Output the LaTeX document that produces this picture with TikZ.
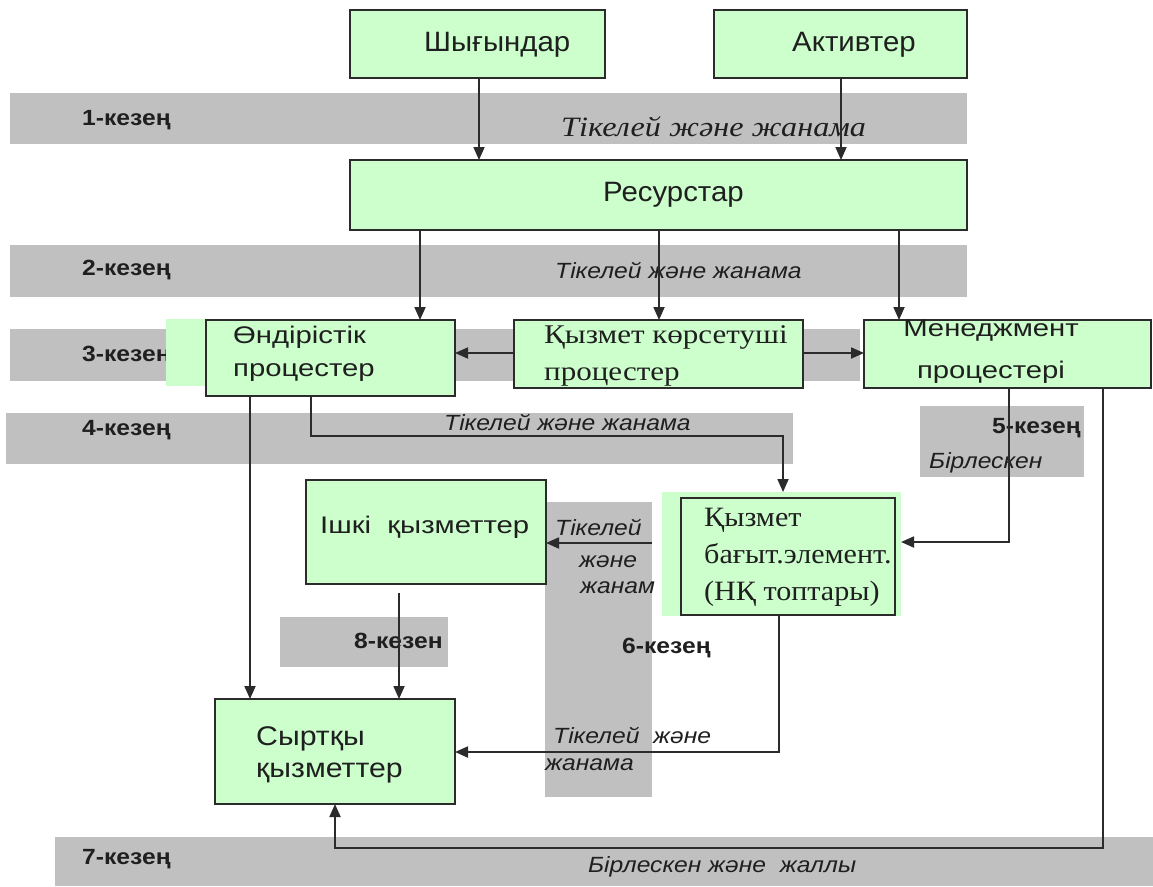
\documentclass[tikz,border=0pt]{standalone}
\usepackage{fontspec}
\setmainfont{Liberation Sans}
\newfontfamily\tnr{Liberation Serif}
\newfontfamily\sansA[FakeStretch=1.05]{Liberation Sans}
\newfontfamily\sansB[FakeStretch=1.12]{Liberation Sans}
\newfontfamily\sansC[FakeStretch=1.22]{Liberation Sans}
\newfontfamily\serA[FakeStretch=1.15]{Liberation Serif}
\newfontfamily\serB[FakeStretch=1.075]{Liberation Serif}
\usetikzlibrary{arrows.meta}
\definecolor{bandgray}{HTML}{C0C0C0}
\definecolor{boxgreen}{HTML}{CCFFCC}
\definecolor{boxline}{HTML}{2B2B2B}
\newcommand\fs[1]{\fontsize{#1}{#1}\selectfont}
\tikzset{
  gband/.style={fill=bandgray, draw=none, inner sep=0pt, outer sep=0pt, anchor=north west},
  gfill/.style={fill=boxgreen, draw=none, inner sep=0pt, outer sep=0pt, anchor=north west},
  gbox/.style={fill=boxgreen, draw=boxline, line width=2pt, inner sep=0pt, outer sep=0pt, anchor=north west},
  arr/.style={draw=boxline, line width=1.8pt, -{Triangle[length=13pt,width=11pt]}},
  lab/.style={inner sep=0pt, anchor=west, text=black!88},
  stage/.style={lab, font=\sansB\bfseries\fs{22}},
  itl/.style={lab, font=\sansB\itshape\fs{22}},
}
\begin{document}
\begin{tikzpicture}[x=1pt,y=-1pt]
\useasboundingbox[fill=white] (0,0) rectangle (1153,886);
% gray bands
\node[gband, minimum width=957pt, minimum height=51pt] (b1) at (10,93) {};
\node[gband, minimum width=957pt, minimum height=52pt] (b2) at (10,245) {};
\node[gband, minimum width=850pt, minimum height=52pt] (b3) at (10,329) {};
\node[gband, minimum width=787pt, minimum height=51pt] (b4) at (6,413) {};
\node[gband, minimum width=164pt, minimum height=71pt] (b5) at (920,406) {};
\node[gband, minimum width=107pt, minimum height=295pt] (b6) at (545,502) {};
\node[gband, minimum width=168pt, minimum height=50pt] (b8) at (280,617) {};
\node[gband, minimum width=1098pt, minimum height=49pt] (b7) at (55,837) {};
% band labels
\node[stage] (s1) at (82,120) {1-кезең};
\node[stage] (s2) at (82,270) {2-кезең};
\node[stage] (s3) at (82,356) {3-кезең};
\node[stage] (s4) at (82,430) {4-кезең};
\node[stage] (s5) at (992,428) {5-кезең};
\node[stage] (s6) at (622,648) {6-кезең};
\node[stage] (s8) at (354,641) {8-кезен};
\node[stage] (s7) at (82,859) {7-кезең};
\node[lab, font=\serA\itshape\fs{28}] (t1) at (561,127) {Тікелей және жанама};
\node[itl] (t2) at (555,270) {Тікелей және жанама};
\node[itl] (t4) at (444,422) {Тікелей және жанама};
\node[itl] (t5) at (929,463) {Бірлескен};
\node[itl] (t6a) at (555,527) {Тікелей};
\node[itl] (t6b) at (579,562) {және};
\node[itl] (t6c) at (580,588) {жанам};
\node[itl] (t8a) at (553,735) {Тікелей\ \ және};
\node[itl] (t8b) at (545,765) {жанама};
\node[itl] (t7) at (588,867) {Бірлескен және\ \ жаллы};
% green backgrounds
\node[gfill, minimum width=60pt, minimum height=67pt] (ondbg) at (166,319) {};
\node[gfill, minimum width=239pt, minimum height=124pt] (bagbg) at (662,492) {};
% boxes
\node[gbox, minimum width=255pt, minimum height=68pt] (shy) at (350,10) {};
\node[gbox, minimum width=253pt, minimum height=68pt] (akt) at (714,10) {};
\node[gbox, minimum width=617pt, minimum height=70pt] (res) at (350,160) {};
\node[gbox, minimum width=249pt, minimum height=76pt] (ond) at (206,320) {};
\node[gbox, minimum width=289pt, minimum height=68pt] (qyz) at (514,320) {};
\node[gbox, minimum width=287pt, minimum height=68pt] (men) at (864,320) {};
\node[gbox, minimum width=240pt, minimum height=104pt] (ish) at (306,480) {};
\node[gbox, minimum width=214pt, minimum height=117pt] (bag) at (681,498) {};
\node[gbox, minimum width=240pt, minimum height=105pt] (syr) at (215,699) {};
% box texts
\node[lab, font=\sansA\fs{28}] (tshy) at (424,45) {Шығындар};
\node[lab, font=\sansA\fs{28}] (takt) at (792,45) {Активтер};
\node[lab, font=\sansA\fs{28}] (tres) at (603,195) {Ресурстар};
\node[lab, font=\sansC\fontsize{24}{33}\selectfont, align=left] (tond) at (233,354) {Өндірістік\\процестер};
\node[lab, font=\serA\fontsize{27}{37}\selectfont, align=left] (tqyz) at (544,356) {Қызмет көрсетуші\\процестер};
\node[inner sep=0pt, text=black!88, font=\sansC\fontsize{24}{42}\selectfont, align=center] (tmen) at (991,352) {Менеджмент\\процестері};
\node[lab, font=\sansC\fs{24}] (tish) at (320,527) {Ішкі\ \ қызметтер};
\node[lab, font=\serB\fontsize{28}{37}\selectfont, align=left] (tbag) at (704,557) {Қызмет\\бағыт.элемент.\\(НҚ топтары)};
\node[lab, font=\sansB\fontsize{27}{32}\selectfont, align=left] (tsyr) at (256,755) {Сыртқы\\қызметтер};
% x/y helper coordinates
\coordinate (x1) at (479,0);
\coordinate (x2) at (841,0);
\coordinate (x3) at (420,0);
\coordinate (x4) at (659,0);
\coordinate (x5) at (899,0);
\coordinate (x6) at (250,0);
\coordinate (y1) at (0,353);
\coordinate (c1) at (311,436);
\coordinate (c2) at (783,436);
\coordinate (c3) at (1009,542);
\coordinate (c4) at (779,752);
\coordinate (c5) at (1103,848);
\coordinate (c6) at (335,848);
\coordinate (c7) at (399,593);
\coordinate (c8) at (652,543);
% connectors
\draw[arr] (shy.south -| x1) -- (res.north -| x1);
\draw[arr] (akt.south -| x2) -- (res.north -| x2);
\draw[arr] (res.south -| x3) -- (ond.north -| x3);
\draw[arr] (res.south -| x4) -- (qyz.north -| x4);
\draw[arr] (res.south -| x5) -- (men.north -| x5);
\draw[arr] (qyz.west |- y1) -- (ond.east |- y1);
\draw[arr] (qyz.east |- y1) -- (men.west |- y1);
\draw[arr] (ond.south -| c1) |- (c2) -- (bagbg.north -| c2);
\draw[arr] (ond.south -| x6) -- (syr.north -| x6);
\draw[arr] (c7) -- (syr.north -| c7);
\draw[arr] (c8) -- (ish.east |- c8);
\draw[arr] (men.south -| c3) |- (bagbg.east |- c3);
\draw[arr] (bag.south -| c4) |- (syr.east |- c4);
\draw[arr] (men.south -| c5) |- (c6) -- (syr.south -| c6);
\end{tikzpicture}
\end{document}
